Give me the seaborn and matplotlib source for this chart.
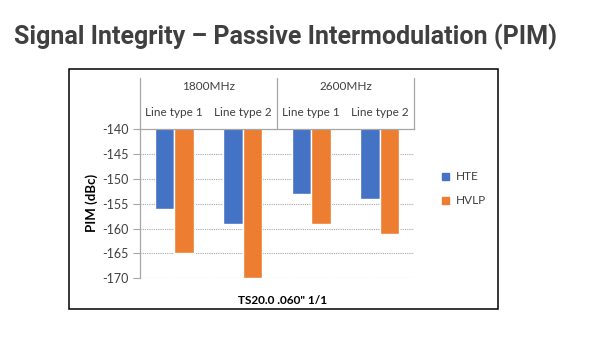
import matplotlib
matplotlib.use("Agg")
import matplotlib.pyplot as plt
from matplotlib.patches import Rectangle
from matplotlib.lines import Line2D
import seaborn as sns
import pandas as pd

# Chart data
bands = ["1800MHz", "1800MHz", "2600MHz", "2600MHz"]
line_types = ["Line type 1", "Line type 2", "Line type 1", "Line type 2"]
hte = [-156, -159, -153, -154]
hvlp = [-165, -170, -159, -161]
series_names = ["HTE", "HVLP"]
y_ticks = [-140, -145, -150, -155, -160, -165, -170]

title = "Signal Integrity \u2013 Passive Intermodulation (PIM)"
x_title = 'TS20.0 .060" 1/1'
y_title = "PIM (dBc)"

cats = [f"{b} {l}" for b, l in zip(bands, line_types)]
df = pd.DataFrame({
    "cat": cats * 2,
    "series": [series_names[0]] * 4 + [series_names[1]] * 4,
    "value": hte + hvlp,
})

sns.set_theme(style="white")
plt.rcParams["font.family"] = ["Lato", "DejaVu Sans"]

W, H = 591, 338
fig = plt.figure(figsize=(W / 100, H / 100), dpi=100)

def fx(px):
    return px / W

def fy(py):
    return 1 - py / H

left, right, top, bottom = 140, 414, 129.3, 278.3
ax = fig.add_axes([fx(left), fy(bottom), fx(right - left), (bottom - top) / H])

colors = ["#4472C4", "#ED7D31"]
sns.barplot(data=df, x="cat", y="value", hue="series", order=cats,
            hue_order=series_names, palette=colors, width=0.57,
            saturation=1, ax=ax, legend=False)

ax.set_ylim(-170, -140)
ax.set_xlim(-0.5, 3.5)
ax.set_yticks(y_ticks)
ax.set_yticklabels([str(v) for v in y_ticks], fontsize=9, color="#404040")
ax.set_xticks([])
ax.set_xlabel("")
ax.set_ylabel("")
ax.tick_params(axis="y", length=5, width=0.8, color="#A6A6A6", pad=3, left=True)

# dotted gridlines below the category axis
for v in y_ticks[1:]:
    ax.axhline(v, color="#A6A6A6", lw=0.8, ls=(0, (1, 1)), zorder=0)

for s in ["right", "bottom"]:
    ax.spines[s].set_visible(False)
ax.spines["left"].set_color("#A6A6A6")
ax.spines["left"].set_linewidth(0.9)
ax.spines["top"].set_color("#A6A6A6")
ax.spines["top"].set_linewidth(0.9)

# multi-level category header above the plot
sep_top = (bottom - 77.5) / (bottom - top)
for xpos in [-0.5, 1.5, 3.5]:
    ax.add_line(Line2D([xpos, xpos], [1.0, sep_top], color="#A6A6A6", lw=0.9,
                       transform=ax.get_xaxis_transform(), clip_on=False))
lt_y = (bottom - 112.3) / (bottom - top)
band_y = (bottom - 86.7) / (bottom - top)
for i, lt in enumerate(line_types):
    ax.text(i, lt_y, lt, transform=ax.get_xaxis_transform(), ha="center",
            va="center", fontsize=8.5, color="#404040")
for i, b in enumerate(["1800MHz", "2600MHz"]):
    ax.text(0.5 + 2 * i, band_y, b, transform=ax.get_xaxis_transform(),
            ha="center", va="center", fontsize=8.5, color="#404040")

# axis titles
fig.text(fx(92), fy(203), y_title, rotation=90, ha="center", va="center",
         fontsize=9.5, fontweight="bold", color="#000000")
fig.text(fx(283), fy(300), x_title, ha="center", va="center",
         fontsize=8.5, fontweight="bold", color="#000000")

# legend
for name, col, py in zip(series_names, colors, [176.7, 200.7]):
    fig.patches.append(Rectangle((fx(441.5), fy(py + 3.5)), fx(7), 7 / H,
                                 transform=fig.transFigure, color=col))
    fig.text(fx(456), fy(py), name, ha="left", va="center", fontsize=8.5,
             color="#404040")

# chart frame
fig.patches.append(Rectangle((fx(69), fy(309)), fx(497.7 - 69), (309 - 68.7) / H,
                             transform=fig.transFigure, fill=False,
                             edgecolor="black", lw=1.1))

# slide title
fig.text(fx(14), fy(37), title, ha="left", va="center", fontsize=18,
         fontweight="bold", color="#404040", family=["Roboto", "DejaVu Sans"])

fig.savefig("out.png", dpi=100)
